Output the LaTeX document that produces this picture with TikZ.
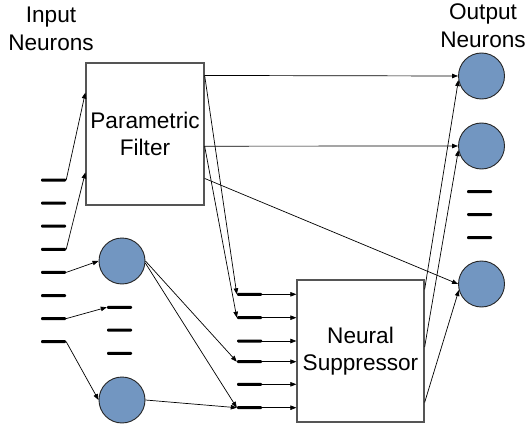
\documentclass[tikz,border=0pt]{standalone}
\usepackage{fontspec}
\setmainfont{Liberation Sans}
\usetikzlibrary{arrows.meta,calc}
\definecolor{neuronfill}{RGB}{114,150,193}
\definecolor{boxedge}{RGB}{85,85,85}
\begin{document}
\begin{tikzpicture}[x=1pt,y=-1pt,
  lbl/.style={font=\fontsize{22.6}{27.5}\selectfont, align=center, inner sep=0pt},
  neuron/.style={circle, draw=black!85, line width=0.9pt, fill=neuronfill,
                 minimum size=46pt, inner sep=0pt},
  unitbox/.style={rectangle, draw=boxedge, line width=1.3pt, fill=white, inner sep=0pt,
                  font=\fontsize{22.6}{27.5}\selectfont, align=center},
  bar/.style={rectangle, fill=black, minimum width=25pt, minimum height=3pt,
              inner sep=0pt, rounded corners=1pt},
  link/.style={draw=black, line width=0.7pt, -{Triangle[length=6pt,width=4.5pt]}}
]
\useasboundingbox (0,0) rectangle (528,428);

% captions
\node[lbl] (inlbl)  at (51,28.6)  {Input\\Neurons};
\node[lbl] (outlbl) at (483,25.5) {Output\\Neurons};

% processing blocks
\node[unitbox, minimum width=118pt, minimum height=142pt] (pf) at (145,134) {Parametric\\Filter};
\node[unitbox, minimum width=127pt, minimum height=142pt] (ns) at (360.5,351) {Neural\\Suppressor};

% input neurons column
\foreach \i/\y in {1/180,2/203.1,3/226.2,4/249.3,5/272.4,6/295.5,7/318.6,8/341.7}
  \node[bar] (ib\i) at (53.5,\y) {};

% hidden neurons
\node[neuron] (c1) at (122,261) {};
\node[neuron] (c2) at (122,400) {};
\foreach \i/\y in {1/307.3,2/330,3/353.3}
  \node[bar] (mb\i) at (119.5,\y) {};

% suppressor inputs
\foreach \i/\y in {1/294.3,2/317.7,3/341,4/361.7,5/384.3,6/407.7}
  \node[bar] (sb\i) at (249.5,\y) {};

% output neurons
\node[neuron] (oc1) at (481.5,76) {};
\node[neuron] (oc2) at (481.5,146) {};
\node[neuron] (oc3) at (481.5,284) {};
\foreach \i/\y in {1/191.7,2/214.5,3/237.7}
  \node[bar] (ob\i) at (479.5,\y) {};

% ports on the block edges
\coordinate (pfin1)  at ($(pf.north west)!0.211!(pf.south west)$);
\coordinate (pfin2)  at ($(pf.north west)!0.768!(pf.south west)$);
\coordinate (pfout1) at ($(pf.north east)!0.0915!(pf.south east)$);
\coordinate (pfout2) at ($(pf.north east)!0.585!(pf.south east)$);
\coordinate (pfout3) at ($(pf.north east)!0.81!(pf.south east)$);
\coordinate (nsout1) at ($(ns.north east)!0.07!(ns.south east)$);
\coordinate (nsout2) at ($(ns.north east)!0.472!(ns.south east)$);
\coordinate (nsout3) at ($(ns.north east)!0.859!(ns.south east)$);

% input layer connections
\draw[link] (ib1.east) -- (pfin1);
\draw[link] (ib4.east) -- (pfin2);
\draw[link] (ib5.east) -- (c1.west);
\draw[link] (ib7.east) -- (mb1.west);
\draw[link] (ib8.east) -- (c2.west);

% hidden neurons to suppressor inputs
\draw[link] (c1.east) -- (sb4.west);
\draw[link] (c1.-5) -- (sb6.west);
\draw[link] (c2.east) -- (sb6.west);

% filter outputs
\draw[link] (pfout1) -- (oc1.west);
\draw[link] (pfout2) -- (oc2.west);
\draw[link] (pfout3) -- (oc3.west);
\draw[link] (pfout1) -- (sb1.west);
\draw[link] (pfout2) -- (sb2.west);

% suppressor inputs into the block
\foreach \i in {1,...,6}
  \draw[link] (sb\i.east) -- (sb\i.east -| ns.west);

% suppressor outputs
\draw[link] (nsout1) -- (oc1.190);
\draw[link] (nsout2) -- (oc2.190);
\draw[link] (nsout3) -- (oc3.195);
\end{tikzpicture}
\end{document}
